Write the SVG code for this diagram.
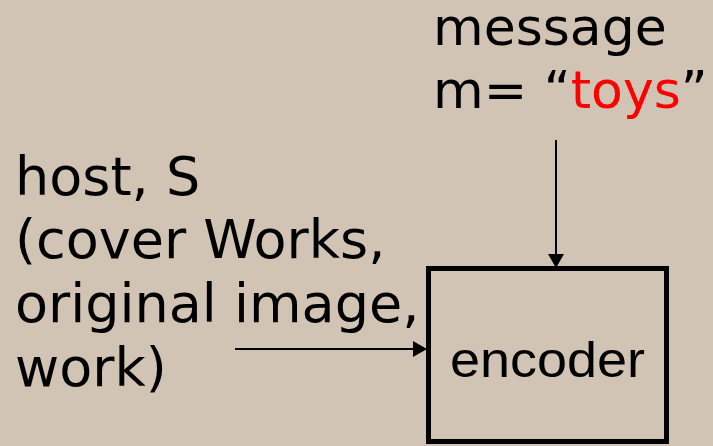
<svg xmlns="http://www.w3.org/2000/svg" width="713" height="446" viewBox="0 0 713 446">
  <style>
    .lbl { font-family: "DejaVu Sans", Verdana, sans-serif; font-size: 52px; fill: #000; }
    .lbl-l { font-size: 54px; }
    .hl { fill: #FF0000; }
    .box { fill: none; stroke: #000; stroke-width: 5; }
    .node-text { font-family: "Liberation Sans", Arial, sans-serif; font-size: 50px; fill: #000; }
    .wire { stroke: #000; stroke-width: 2; fill: none; marker-end: url(#head); }
  </style>
  <defs>
    <marker id="head" markerWidth="14" markerHeight="16" refX="13" refY="8" orient="auto" markerUnits="userSpaceOnUse">
      <path d="M0,0 L14,8 L0,16 Z" fill="#000"/>
    </marker>
  </defs>

  <rect x="0" y="0" width="713" height="446" fill="#D2C4B4"/>

  <g id="message">
    <text class="lbl" x="433" y="45">message</text>
    <text class="lbl" x="433" y="108">m= “<tspan class="hl">toys</tspan>”</text>
  </g>

  <g id="host">
    <text class="lbl lbl-l" x="15" y="195">host, S</text>
    <text class="lbl lbl-l" x="15" y="258">(cover Works,</text>
    <text class="lbl lbl-l" x="15" y="322">original image,</text>
    <text class="lbl lbl-l" x="15" y="386">work)</text>
  </g>

  <g id="encoder">
    <rect class="box" x="428.5" y="268.5" width="238" height="173"/>
    <text class="node-text" x="450" y="377" textLength="195" lengthAdjust="spacingAndGlyphs">encoder</text>
  </g>

  <g id="connectors">
    <line class="wire" x1="556" y1="140" x2="556" y2="267"/>
    <line class="wire" x1="235" y1="349" x2="426" y2="349"/>
  </g>
</svg>
